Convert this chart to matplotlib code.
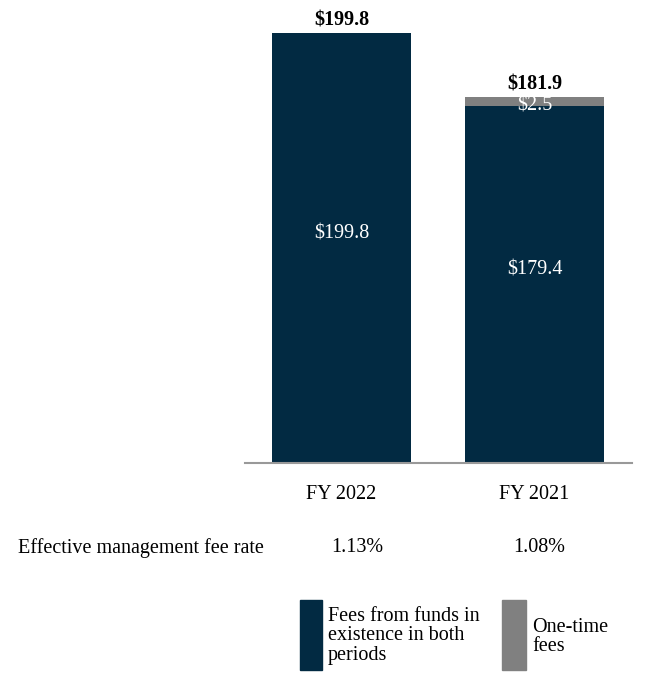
import matplotlib
matplotlib.use("Agg")
import matplotlib.pyplot as plt
from matplotlib.patches import Rectangle

plt.rcParams.update({"font.family": ["Liberation Serif", "DejaVu Serif"], "font.size": 14.5})

NAVY, GREY = "#022a42", "#808080"

periods = ["FY 2022", "FY 2021"]
existing_fees = [199.8, 179.4]
one_time_fees = [0.0, 2.5]
totals = [199.8, 181.9]
fee_rates = ["1.13%", "1.08%"]

fig = plt.figure(figsize=(6.66, 6.92), dpi=100)
ax = fig.add_axes([0.368, 0.331, 0.581, 0.669])

x = list(range(len(periods)))
w = 0.72
ax.bar(x, existing_fees, w, color=NAVY)
ax.bar(x, one_time_fees, w, bottom=existing_fees, color=GREY)

for xi, base, extra, tot in zip(x, existing_fees, one_time_fees, totals):
    ax.annotate(f"${base:.1f}", (xi, (79.5 + base) / 2), xytext=(0, 10), textcoords="offset points",
                ha="center", va="center", color="white")
    if extra > 0:
        ax.annotate(f"${extra:.1f}", (xi, base + extra / 2), xytext=(0, -3), textcoords="offset points",
                    ha="center", va="center", color="white")
    ax.annotate(f"${tot:.1f}", (xi, base + extra), xytext=(0, 9), textcoords="offset points",
                ha="center", va="center", fontweight="bold")

ax.set_ylim(79.5, 209)
ax.set_xlim(-0.5, 1.505)
ax.set_yticks([])
ax.set_xticks(x)
ax.set_xticklabels(periods)
ax.tick_params(axis="x", length=0, pad=16)
for s in ("top", "right", "left"):
    ax.spines[s].set_visible(False)
ax.spines["bottom"].set_color("#999999")
ax.spines["bottom"].set_linewidth(1.5)

# fee-rate row (values sit a little right of the bar centres)
fig.text(18 / 666, 1 - 548 / 692, "Effective management fee rate", ha="left", va="center")
for xi, r, dx in zip(x, fee_rates, (16, 5)):
    xd = (ax.transData.transform((xi, 0))[0] + dx) / fig.bbox.width
    fig.text(xd, 1 - 548 / 692, r, ha="center", va="center")

# legend, drawn by hand to match the boxed layout
H = 692
fig.patches.append(Rectangle((300 / 666, 1 - 670 / H), 22 / 666, 70 / H,
                             transform=fig.transFigure, color=NAVY))
fig.text(328 / 666, 1 - 636 / H, "Fees from funds in\nexistence in both\nperiods",
         ha="left", va="center", linespacing=1.05)
fig.patches.append(Rectangle((502 / 666, 1 - 670 / H), 24 / 666, 70 / H,
                             transform=fig.transFigure, color=GREY))
fig.text(532 / 666, 1 - 637 / H, "One-time\nfees", ha="left", va="center", linespacing=1.05)

fig.savefig("out.png", dpi=100)
